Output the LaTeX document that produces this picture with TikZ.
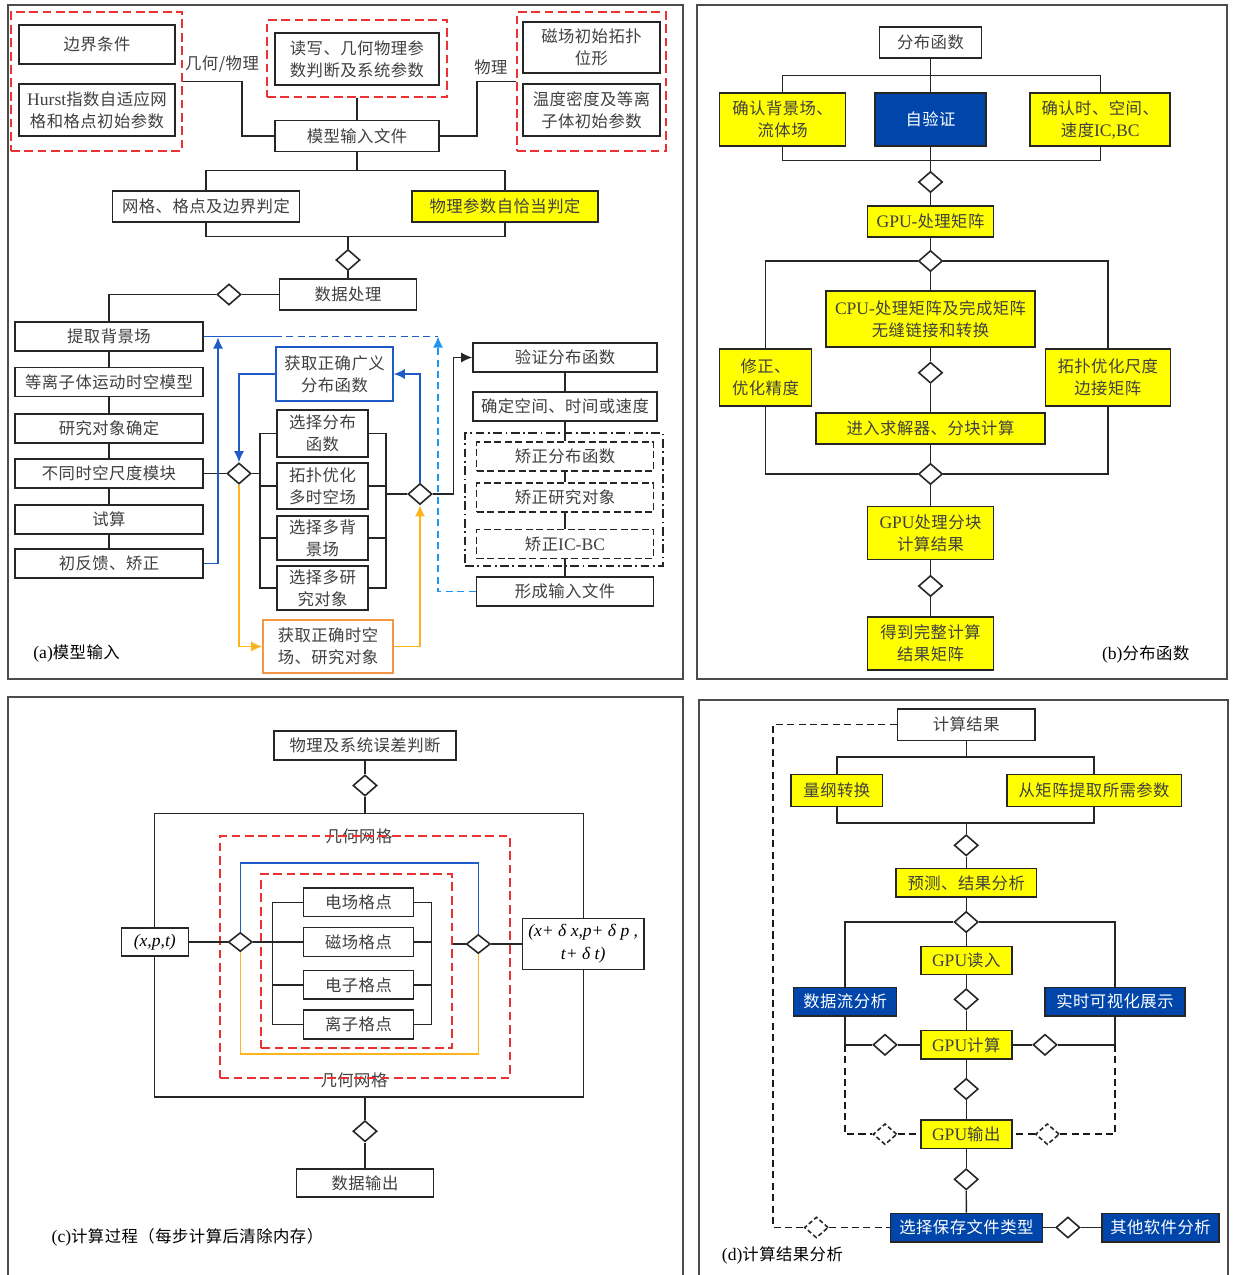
\documentclass[tikz,border=0pt]{standalone}
\usepackage{fontspec}
\setmainfont{Liberation Serif}
\newfontfamily\cjkfam[LetterSpace=3]{Noto Sans CJK SC}
\newcommand\cjkft{\cjkfam\fontsize{9.3}{12.5}\selectfont}
\newcommand\latn[1]{{\rmfamily\fontsize{10}{12.5}\selectfont #1}}
\usetikzlibrary{shapes.geometric,arrows.meta}
\definecolor{fillblue}{RGB}{0,70,170}
\definecolor{lineblue}{RGB}{30,90,200}
\definecolor{lightblue}{RGB}{30,150,240}
\definecolor{lineorange}{RGB}{255,180,30}
\definecolor{boxorange}{RGB}{245,150,70}
\definecolor{reddash}{RGB}{235,50,50}
\definecolor{yell}{RGB}{255,255,0}
\tikzset{
  wh/.style 2 args={minimum width=#1*0.02cm, minimum height=#2*0.02cm},
  box/.style={draw=black!85, line width=0.9pt, fill=white, inner sep=0pt, align=center, font=\cjkft, text=black!75},
  ybox/.style={box, fill=yell},
  bbox/.style={box, fill=fillblue, text=white},
  dbox/.style={box, draw=black!85, line width=1pt, dash pattern=on 4pt off 2pt},
  rbox/.style={draw=reddash, line width=1.1pt, dash pattern=on 5pt off 2.6pt, inner sep=0pt},
  dia/.style={draw=black!85, line width=0.9pt, fill=white, diamond, inner sep=0pt, minimum width=24*0.02cm, minimum height=21*0.02cm},
  ddia/.style={dia, dash pattern=on 2.5pt off 1.5pt},
  ln/.style={draw=black!85, line width=0.8pt},
  dln/.style={draw=black!90, line width=0.95pt, dash pattern=on 4pt off 2.5pt},
  bln/.style={draw=lineblue, line width=0.8pt},
  oln/.style={draw=lineorange, line width=0.8pt},
  tip/.style={-{Latex[length=0.22cm,width=0.2cm]}},
  lbl/.style={font=\cjkft, text=black!75, inner sep=0pt},
  panel/.style={draw=black!70, line width=0.8pt},
}
\begin{document}
\begin{tikzpicture}[x=0.02cm, y=-0.02cm]
\useasboundingbox (0,0) rectangle (1235,1275);
\fill[white] (0,0) rectangle (1235,1275);
% panel frames
\draw[panel] (8,5) rectangle (683,679);
\draw[panel] (697,5) rectangle (1227,679);
\draw[panel] (8,697) rectangle (683,1285);
\draw[panel] (699,700) rectangle (1228,1285);

%================ (a) =================
\node[rbox,wh={171}{139}] (r1) at (96.5,81.5) {};
\node[box,wh={156}{39}] (a1) at (97,44.5) {边界条件};
\node[box,wh={156}{52}] (a2) at (97,110) {\latn{Hurst}指数自适应网\\格和格点初始参数};
\node[lbl] (l1) at (222,64) {几何/物理};
\node[rbox,wh={180}{77}] (r2) at (357,58.5) {};
\node[box,wh={164}{52}] (a4) at (357,59) {读写、几何物理参\\数判断及系统参数};
\node[box,wh={164}{31}] (a3) at (357,136) {模型输入文件};
\node[lbl] (l2) at (491,67) {物理};
\node[rbox,wh={149}{139}] (r3) at (591.5,81.5) {};
\node[box,wh={137}{51}] (a5) at (591.5,47.5) {磁场初始拓扑\\位形};
\node[box,wh={137}{52}] (a6) at (591.5,110) {温度密度及等离\\子体初始参数};
\coordinate (ca) at (242,136);
\coordinate (cb) at (477,81.5);
\draw[ln] (r1.east) -| (ca) -- (a3.west);
\draw[ln] (r2.south) -- (a3.north);
\draw[ln] (a3.east) -| (cb) -- (r3.west);

\node[box,wh={187}{31}] (a7) at (206,206.5) {网格、格点及边界判定};
\node[ybox,wh={186}{31}] (a8) at (505,206.5) {物理参数自恰当判定};
\coordinate (ja) at (357,171);
\coordinate (jb) at (348,236);
\draw[ln] (a7.north) -- ++(0,-20) -| (a8.north);
\draw[ln] (a3.south) -- (ja);
\draw[ln] (a7.south) -- ++(0,14) -| (a8.south);
\node[dia] (d1) at (348,260) {};
\node[box,wh={137}{31}] (a9) at (348,294.5) {数据处理};
\draw[ln] (jb) -- (d1.north);
\draw[ln] (d1.south) -- (a9.north);
\node[dia] (d2) at (229,294.5) {};

\node[box,wh={188}{29}] (c1) at (109,336.5) {提取背景场};
\node[box,wh={188}{29}] (c2) at (109,382) {等离子体运动时空模型};
\node[box,wh={188}{29}] (c3) at (109,428.5) {研究对象确定};
\node[box,wh={188}{29}] (c4) at (109,473.5) {不同时空尺度模块};
\node[box,wh={188}{29}] (c5) at (109,519.5) {试算};
\node[box,wh={188}{29}] (c6) at (109,563.5) {初反馈、矫正};
\draw[ln] (a9.west) -- (d2.east);
\draw[ln] (d2.west) -| (c1.north);
\draw[ln] (c1.south) -- (c2.north);
\draw[ln] (c2.south) -- (c3.north);
\draw[ln] (c3.south) -- (c4.north);
\draw[ln] (c4.south) -- (c5.north);
\draw[ln] (c5.south) -- (c6.north);

\node[dia] (d3) at (239,473.5) {};
\draw[ln] (c4.east) -- (d3.west);
\node[box,draw=lineblue,wh={117}{54}] (g1) at (334.5,374) {获取正确广义\\分布函数};
\node[box,draw=boxorange,wh={130}{53}] (g2) at (328,646.5) {获取正确时空\\场、研究对象};
\node[box,wh={91}{47}] (s1) at (322.5,433.5) {选择分布\\函数};
\node[box,wh={91}{46}] (s2) at (322.5,486) {拓扑优化\\多时空场};
\node[box,wh={91}{44}] (s3) at (322.5,538) {选择多背\\景场};
\node[box,wh={91}{44}] (s4) at (322.5,588) {选择多研\\究对象};
\coordinate (bxL) at (260,0);
\coordinate (bxR) at (386,0);
\draw[ln] (d3.east) -- (d3.east -| bxL);
\draw[ln] (s1.west) -- (s1.west -| bxL) -- (s4.west -| bxL) -- (s4.west);
\draw[ln] (s2.west) -- (s2.west -| bxL);
\draw[ln] (s3.west) -- (s3.west -| bxL);
\node[dia] (d4) at (420,494) {};
\draw[ln] (s1.east) -- (s1.east -| bxR) -- (s4.east -| bxR) -- (s4.east);
\draw[ln] (s2.east) -- (s2.east -| bxR);
\draw[ln] (s3.east) -- (s3.east -| bxR);
\draw[ln] (d4.west) -- (d4.west -| bxR);
\draw[bln,tip] (g1.west) -| (d3.north);
\draw[oln,tip] (d3.south) |- (g2.west);
\draw[bln,tip] (d4.north) |- (g1.east);
\draw[oln,tip] (g2.east) -| (d4.south);

\node[box,wh={184}{29}] (v1) at (565,357.5) {验证分布函数};
\node[box,wh={184}{29}] (v2) at (565,406.5) {确定空间、时间或速度};
\node[draw=black!85, line width=1pt, dash pattern=on 5pt off 2pt on 1pt off 2pt, inner sep=0pt, wh={198}{133}] (dd) at (564,499.5) {};
\node[dbox,wh={177}{29}] (v3) at (565,456.5) {矫正分布函数};
\node[dbox,wh={177}{29}] (v4) at (565,497.5) {矫正研究对象};
\node[dbox,wh={177}{29}] (v5) at (565,544) {矫正\latn{IC-BC}};
\node[box,wh={177}{29}] (v6) at (565,591.5) {形成输入文件};
\draw[ln,tip] (d4.east) -- ++(21,0) |- (v1.west);
\draw[ln] (v1.south) -- (v2.north);
\draw[ln] (v2.south) -- (v3.north);
\draw[ln] (v3.south) -- (v4.north);
\draw[ln] (v4.south) -- (v5.north);
\draw[ln] (v5.south) -- (v6.north);
\coordinate (q1) at (275,336.5);
\coordinate (tp) at (438,336.5);
\coordinate (q2) at (218,337.5);
\draw[bln] (c1.east) -- (q1);
\draw[bln, line width=0.9pt, dash pattern=on 4pt off 2.5pt] (q1) -- (tp);
\draw[draw=lightblue, line width=0.9pt, dash pattern=on 4pt off 2.5pt, tip] (v6.west) -| (tp);
\draw[bln,tip] (c6.east) -| (q2);
\node[lbl, anchor=west, text=black] (la) at (33,653) {\latn{(a)}模型输入};

%================ (b) =================
\node[box,wh={102}{31}] (p1) at (930.5,42.5) {分布函数};
\node[ybox,wh={126}{53}] (p2) at (782.6,119.5) {确认背景场、\\流体场};
\node[bbox,wh={111.5}{53}] (p3) at (930.5,119.5) {自验证};
\node[ybox,wh={140}{53}] (p4) at (1100.2,119.5) {确认时、空间、\\速度\latn{IC,BC}};
\draw[ln] (p1.south) -- (p3.north);
\draw[ln] (p2.north) -- ++(0,-17) -| (p4.north);
\draw[ln] (p2.south) -- ++(0,14) -| (p4.south);
\node[dia] (e1) at (930.5,182) {};
\node[ybox,wh={126}{31}] (p5) at (930.5,221.5) {\latn{GPU-}处理矩阵};
\node[dia] (e2) at (930.5,261) {};
\node[ybox,wh={209}{56}] (p6) at (930.5,319) {\latn{CPU-}处理矩阵及完成矩阵\\无缝链接和转换};
\node[ybox,wh={92}{57}] (p7) at (765.5,377.3) {修正、\\优化精度};
\node[ybox,wh={125}{57}] (p8) at (1107.8,377.3) {拓扑优化尺度\\边接矩阵};
\node[dia] (e3) at (930.5,372.7) {};
\node[ybox,wh={229}{31}] (p9) at (930.5,428.7) {进入求解器、分块计算};
\node[dia] (e4) at (930.5,474) {};
\node[ybox,wh={126}{53}] (p10) at (930.5,533) {\latn{GPU}处理分块\\计算结果};
\node[dia] (e5) at (930.5,586) {};
\node[ybox,wh={126}{53}] (p11) at (930.5,643.3) {得到完整计算\\结果矩阵};
\draw[ln] (p3.south) -- (e1.north);
\draw[ln] (e1.south) -- (p5.north);
\draw[ln] (p5.south) -- (e2.north);
\draw[ln] (e2.west) -| (p7.north);
\draw[ln] (e2.east) -| (p8.north);
\draw[ln] (e2.south) -- (p6.north);
\draw[ln] (p6.south) -- (e3.north);
\draw[ln] (e3.south) -- (p9.north);
\draw[ln] (p9.south) -- (e4.north);
\draw[ln] (p7.south) |- (e4.west);
\draw[ln] (p8.south) |- (e4.east);
\draw[ln] (e4.south) -- (p10.north);
\draw[ln] (p10.south) -- (e5.north);
\draw[ln] (e5.south) -- (p11.north);
\node[lbl, anchor=west, text=black] (lb) at (1101.7,654) {\latn{(b)}分布函数};

%================ (c) =================
\node[box,wh={182}{29}] (k1) at (365,745.3) {物理及系统误差判断};
\node[dia] (f1) at (365,785.5) {};
\draw[ln] (k1.south) -- (f1.north);
\node[draw=black!85, line width=0.9pt, inner sep=0pt, wh={428.6}{283.4}] (bigc) at (369,955.2) {};
\draw[ln] (f1.south) -- (f1.south |- bigc.north);
\node[lbl] (lg1) at (359,836) {几何网格};
\node[lbl] (lg2) at (354,1080) {几何网格};
\node[rbox,wh={289.7}{241.8}] (rc1) at (365.15,956.9) {};
\coordinate (bt) at (0,862.9);
\coordinate (ot) at (0,1053.8);
\node[dia, minimum height=19*0.02cm] (f2) at (240.3,942) {};
\node[dia, minimum height=19*0.02cm] (f3) at (478.3,944) {};
\draw[bln] (f2.north) -- (f2.north |- bt) -- (f3.north |- bt) -- (f3.north);
\draw[oln] (f2.south) -- (f2.south |- ot) -- (f3.south |- ot) -- (f3.south);
\node[rbox,wh={190.4}{174}] (rc2) at (356.5,961) {};
\node[box,wh={67}{27.6},font=\rmfamily\itshape\fontsize{10}{12.5}\selectfont,text=black] (xp) at (154.8,942) {(x,p,t)};
\node[box,wh={121.7}{51},font=\rmfamily\itshape\fontsize{10}{13}\selectfont,text=black] (xq) at (583.2,944) {(x+ δ x,p+ δ p ,\\t+ δ t)};
\draw[ln] (xp.east) -- (f2.west);
\draw[ln] (f3.east) -- (xq.west);
\node[box,wh={109.6}{28.7}] (m1) at (358.5,902.3) {电场格点};
\node[box,wh={109.6}{28.7}] (m2) at (358.5,942) {磁场格点};
\node[box,wh={109.6}{28.7}] (m3) at (358.5,984.9) {电子格点};
\node[box,wh={109.6}{28.7}] (m4) at (358.5,1024.5) {离子格点};
\coordinate (blc) at (272.3,0);
\coordinate (brc) at (431.7,0);
\draw[ln] (f2.east) -- (f2.east -| blc);
\draw[ln] (m1.west) -- (m1.west -| blc) -- (m4.west -| blc) -- (m4.west);
\draw[ln] (m2.west) -- (m2.west -| blc);
\draw[ln] (m3.west) -- (m3.west -| blc);
\draw[ln] (m1.east) -- (m1.east -| brc) -- (m4.east -| brc) -- (m4.east);
\draw[ln] (m2.east) -- (m2.east -| brc);
\draw[ln] (m3.east) -- (m3.east -| brc);
\draw[ln] (f3.west) -- (f3.west -| rc2.east);
\node[dia] (f4) at (365,1131.2) {};
\node[box,wh={137}{28.4}] (k2) at (365,1183) {数据输出};
\draw[ln] (f4.north |- bigc.south) -- (f4.north);
\draw[ln] (f4.south) -- (k2.north);
\node[lbl, anchor=west, text=black] (lc) at (51.3,1237) {\latn{(c)}计算过程（每步计算后清除内存）};

%================ (d) =================
\node[box,wh={137}{31.6}] (t1) at (966.2,724.5) {计算结果};
\node[ybox,wh={91.4}{32}] (t2) at (836.9,790.3) {量纲转换};
\node[ybox,wh={174.7}{32}] (t3) at (1094.1,790.3) {从矩阵提取所需参数};
\coordinate (tb) at (0,757.7);
\coordinate (bb) at (0,822);
\draw[ln] (t2.north) -- ++(0,-16.6) -| (t3.north);
\draw[ln] (t1.south) -- (t1.south |- tb);
\draw[ln] (t2.south) -- ++(0,15.7) -| (t3.south);
\node[dia] (h1) at (966.2,845.3) {};
\draw[ln] (h1.north |- bb) -- (h1.north);
\node[ybox,wh={140.3}{28.3}] (t4) at (966.2,882.8) {预测、结果分析};
\draw[ln] (h1.south) -- (t4.north);
\node[dia] (h2) at (966.2,922) {};
\draw[ln] (t4.south) -- (h2.north);
\node[ybox,wh={91}{28.3}] (t5) at (966.2,960.5) {\latn{GPU}读入};
\draw[ln] (h2.south) -- (t5.north);
\node[bbox,wh={103}{28.4}] (t6) at (845.1,1001.5) {数据流分析};
\node[bbox,wh={140}{28.4}] (t7) at (1115,1001.5) {实时可视化展示};
\draw[ln] (h2.west) -| (t6.north);
\draw[ln] (h2.east) -| (t7.north);
\node[dia] (h3) at (966.2,999.3) {};
\draw[ln] (t5.south) -- (h3.north);
\node[ybox,wh={91}{28.3}] (t8) at (966.2,1044.8) {\latn{GPU}计算};
\draw[ln] (h3.south) -- (t8.north);
\node[dia] (h4) at (885,1044.8) {};
\node[dia] (h5) at (1045,1044.8) {};
\draw[ln] (t6.south) |- (h4.west);
\draw[ln] (h4.east) -- (t8.west);
\draw[ln] (t7.south) |- (h5.east);
\draw[ln] (h5.west) -- (t8.east);
\node[dia] (h6) at (966.2,1089) {};
\draw[ln] (t8.south) -- (h6.north);
\node[ybox,wh={91}{28.3}] (t9) at (966.2,1134.2) {\latn{GPU}输出};
\draw[ln] (h6.south) -- (t9.north);
\node[ddia] (h7) at (885,1134.2) {};
\node[ddia] (h8) at (1047.4,1134.2) {};
\draw[dln] (t6.south |- h4.west) |- (h7.west);
\draw[dln] (h7.east) -- (t9.west);
\draw[dln] (t7.south |- h5.east) |- (h8.east);
\draw[dln] (h8.west) -- (t9.east);
\node[dia] (h9) at (966.2,1179.3) {};
\draw[ln] (t9.south) -- (h9.north);
\node[bbox,wh={152}{28.4}] (t10) at (966.4,1227.5) {选择保存文件类型};
\draw[ln] (h9.south) -- (t10.north);
\node[dia] (h10) at (1067.9,1227.5) {};
\node[bbox,wh={117}{28.4}] (t11) at (1160.5,1227.5) {其他软件分析};
\draw[ln] (t10.east) -- (h10.west);
\draw[ln] (h10.east) -- (t11.west);
\node[ddia] (h11) at (816.4,1227.5) {};
\coordinate (lo) at (772.7,1227.5);
\draw[dln] (t1.west) -| (lo) -- (h11.west);
\draw[dln] (h11.east) -- (t10.west);
\node[lbl, anchor=west, text=black] (ld) at (721.6,1255.3) {\latn{(d)}计算结果分析};
\end{tikzpicture}
\end{document}
